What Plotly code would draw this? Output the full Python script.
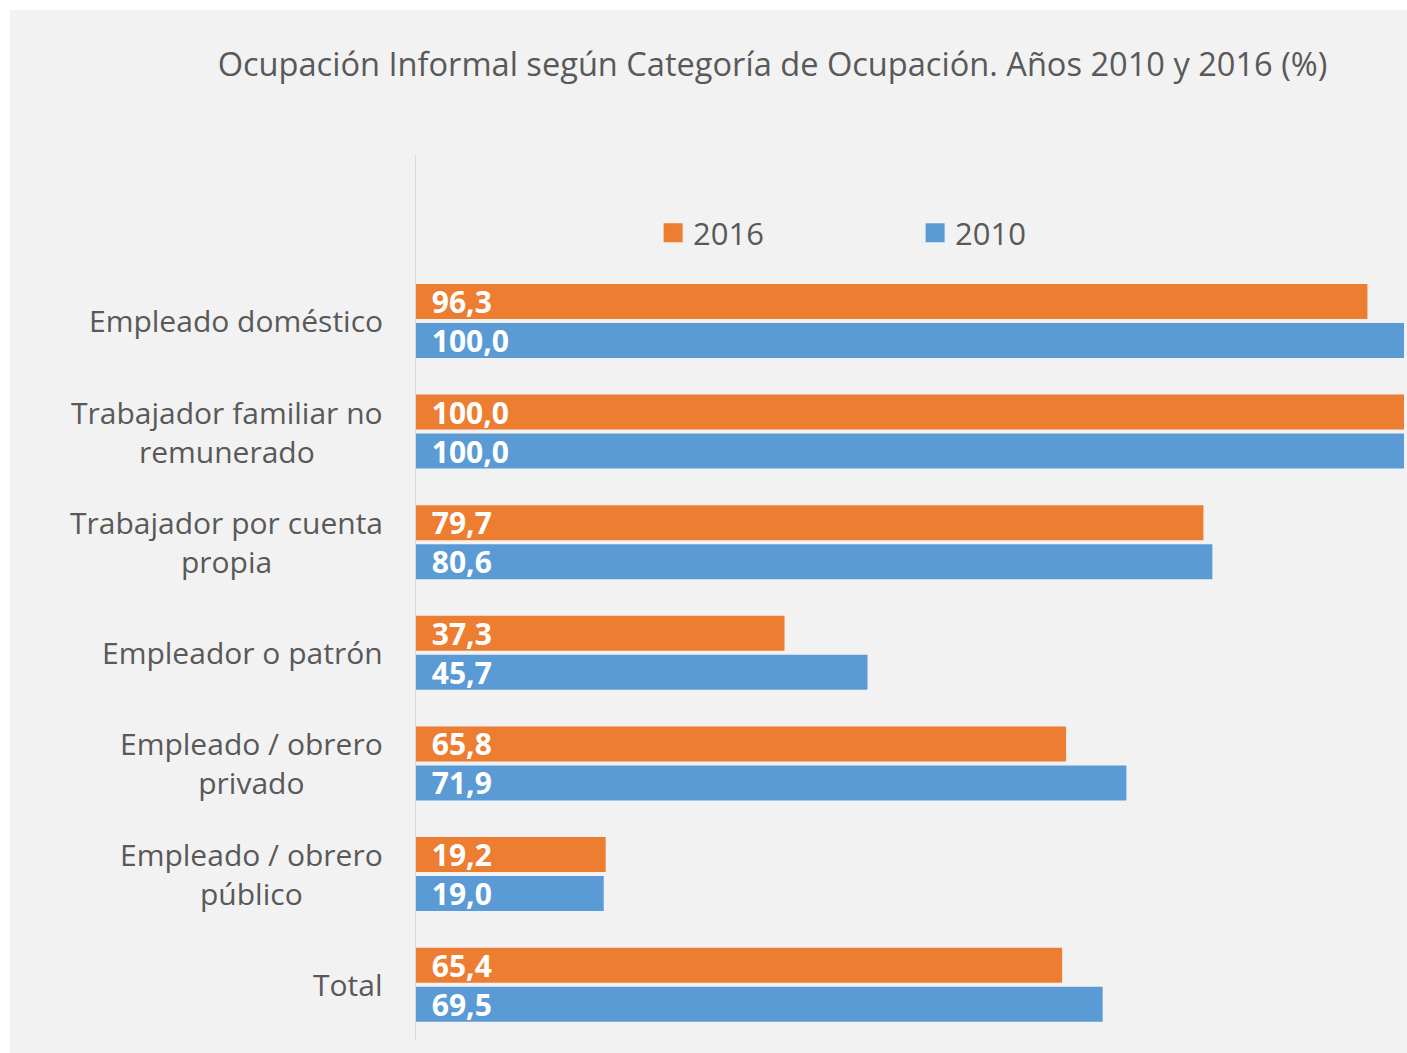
import plotly.graph_objects as go

categories = [
    "Empleado doméstico",
    "Trabajador familiar no<br>remunerado",
    "Trabajador por cuenta<br>propia",
    "Empleador o patrón",
    "Empleado / obrero<br>privado",
    "Empleado / obrero<br>público",
    "Total",
]
values_2016 = [96.3, 100.0, 79.7, 37.3, 65.8, 19.2, 65.4]
values_2010 = [100.0, 100.0, 80.6, 45.7, 71.9, 19.0, 69.5]
series_names = ["2016", "2010"]
colors = ["#ED7D31", "#5B9BD5"]

FONT = "Open Sans"
GREY = "#595959"
pos = list(range(len(categories)))


def fmt(v):
    return "\u00a0\u2009" + f"{v:.1f}".replace(".", ",")


fig = go.Figure()
for name, vals, col in zip(series_names, [values_2016, values_2010], colors):
    fig.add_trace(go.Bar(
        y=pos, x=vals, orientation="h", name=name, showlegend=False,
        marker=dict(color=col, line=dict(width=0)),
        text=[fmt(v) for v in vals], textposition="inside",
        insidetextanchor="start", constraintext="none", textangle=0,
        textfont=dict(family=FONT, size=30, color="white", weight="bold"),
        hoverinfo="skip",
    ))
    fig.add_trace(go.Scatter(
        x=[None], y=[None], mode="markers", name=name,
        marker=dict(symbol="square", size=16, color=col, line=dict(width=3, color=col)),
    ))

for p, c in zip(pos, categories):
    fig.add_annotation(
        x=-0.0314, xref="paper", y=p, yref="y", text=c, showarrow=False,
        xanchor="right", yanchor="middle", align="center",
        font=dict(family=FONT, size=30, color=GREY),
    )

fig.update_layout(
    width=1407, height=1053, autosize=False,
    margin=dict(l=416, r=3, t=155, b=13, pad=0),
    paper_bgcolor="#F2F2F2", plot_bgcolor="#F2F2F2",
    barmode="group", bargap=0.295, bargroupgap=0.1026,
    title=dict(text="Ocupación Informal según Categoría de Ocupación. Años 2010 y 2016 (%)",
               x=(772.5) / 1407, xanchor="center", y=1 - 65 / 1053, yanchor="middle",
               font=dict(family=FONT, size=32.6, color=GREY)),
    xaxis=dict(range=[0, 100], visible=False, fixedrange=True),
    yaxis=dict(range=[6.5, -1.5], showticklabels=False, showgrid=False, zeroline=False,
               showline=True, linecolor="#D9D9D9", linewidth=1, ticks=""),
    legend=dict(orientation="h", x=0.24, xanchor="left", y=1 - (233 - 155) / 885,
                yanchor="middle", entrywidth=217, entrywidthmode="pixels",
                font=dict(family=FONT, size=31, color=GREY), bgcolor="rgba(0,0,0,0)",
                traceorder="normal"),
    showlegend=True,
    shapes=[
        dict(type="rect", xref="paper", yref="paper", x0=-1, x1=2, y0=1 + 145 / 885, y1=2,
             fillcolor="white", line=dict(width=0), layer="below"),
        dict(type="rect", xref="paper", yref="paper", x0=-1, x1=-406 / 988, y0=-1, y1=2,
             fillcolor="white", line=dict(width=0), layer="below"),
    ],
)

fig.write_html(
    "out.html",
    config={"responsive": False, "displayModeBar": False},
    post_script="document.body.style.margin='0';document.body.style.overflow='hidden';",
)
